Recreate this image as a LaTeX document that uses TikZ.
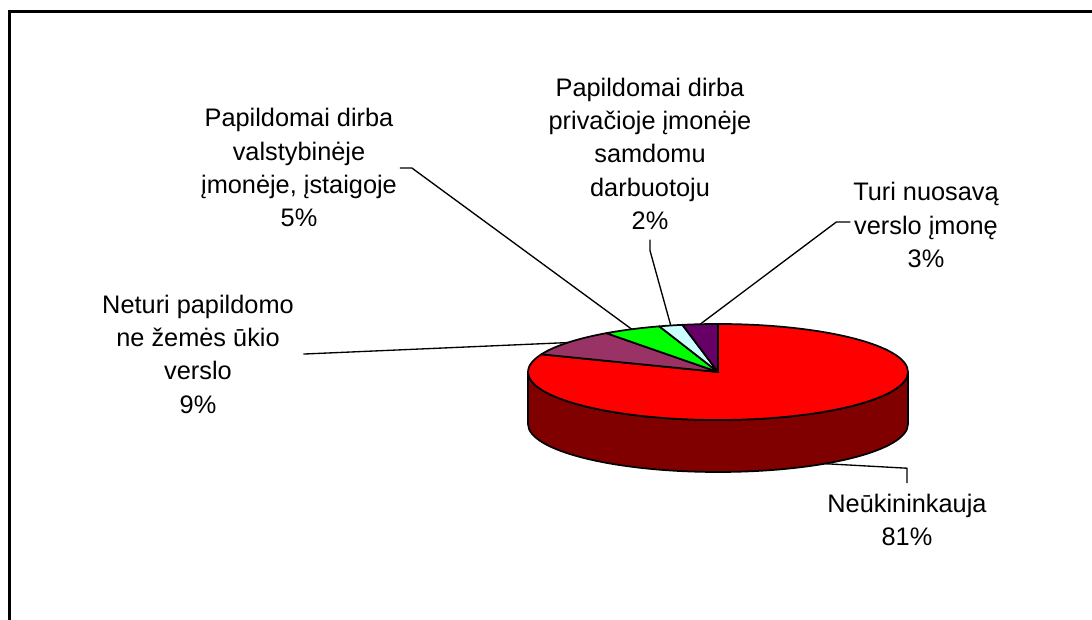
\documentclass[tikz,border=0pt]{standalone}
\usepackage{fontspec}
\setmainfont{Liberation Sans}
\usetikzlibrary{calc}

\definecolor{pieRed}{HTML}{FF0000}
\definecolor{wallRed}{HTML}{800000}
\definecolor{pieMaroon}{HTML}{993366}
\definecolor{pieGreen}{HTML}{00FF00}
\definecolor{pieCyan}{HTML}{CCFFFF}
\definecolor{piePurple}{HTML}{660066}

\tikzset{
  slice/.style={draw=black,line width=1.3pt,line join=round},
  leader/.style={draw=black,line width=1pt},
  lbl/.style={align=center,inner sep=0pt,font=\fontsize{19}{25}\selectfont,
    execute at begin node=\strut,execute at end node=\strut}
}

\begin{document}
\begin{tikzpicture}[x=0.75pt,y=0.75pt]
\useasboundingbox (0,0) rectangle (1092,620);
% chart frame, cut at right and bottom
\draw[line width=1.6pt] (9.5,0) -- (9.5,608.5) -- (1092,608.5);
% centre of the pie
\coordinate (c) at (718,248);
% the front wall
\filldraw[slice,fill=wallRed] ($(c)+(180:190 and 48)$)
  arc[start angle=180,end angle=360,x radius=190,y radius=48] -- ++(0,-52)
  arc[start angle=360,end angle=180,x radius=190,y radius=48] -- cycle;
% the slices, clockwise from the top
\foreach \a/\b/\col in {90/-201.6/pieRed,158.4/126/pieMaroon,126/108/pieGreen,108/100.8/pieCyan,100.8/90/piePurple}
  \filldraw[slice,fill=\col] (c) -- ($(c)+(\a:190 and 48)$)
    arc[start angle=\a,end angle=\b,x radius=190,y radius=48] -- cycle;
% leader ends on the rim
\coordinate (e81) at ($(c)+(304.2:190 and 48)+(0,-52)$);
\coordinate (e9) at ($(c)+(142.2:190 and 48)$);
\coordinate (e5) at ($(c)+(117:190 and 48)$);
\coordinate (e2) at ($(c)+(104.4:190 and 48)$);
\coordinate (e3) at ($(c)+(95.4:190 and 48)$);
% the labels
\node[lbl] (n81) at (907,95) {Neūkininkauja\\81\%};
\node[lbl] (n9) at (198,261) {Neturi papildomo\\ne žemės ūkio\\verslo\\9\%};
\node[lbl] (n5) at (299,447.5) {Papildomai dirba\\valstybinėje\\įmonėje, įstaigoje\\5\%};
\node[lbl] (n2) at (650,461.5) {Papildomai dirba\\privačioje įmonėje\\samdomu\\darbuotoju\\2\%};
\node[lbl] (n3) at (926,390) {Turi nuosavą\\verslo įmonę\\3\%};
% leader lines
\draw[leader] ([yshift=8pt]n81.north) -- ++(0,15) -- (e81);
\draw[leader] ([xshift=7pt,yshift=3.7pt]n9.east) -- (e9);
\draw[leader] ([xshift=2pt,yshift=3.4pt]n5.east) -- ++(12,0) -- (e5);
\draw[leader] (n2.south) -- ++(0,-11) -- (e2);
\draw[leader] ([xshift=-2pt,yshift=6pt]n3.west) -- ++(-14,0) -- (e3);
\end{tikzpicture}
\end{document}
